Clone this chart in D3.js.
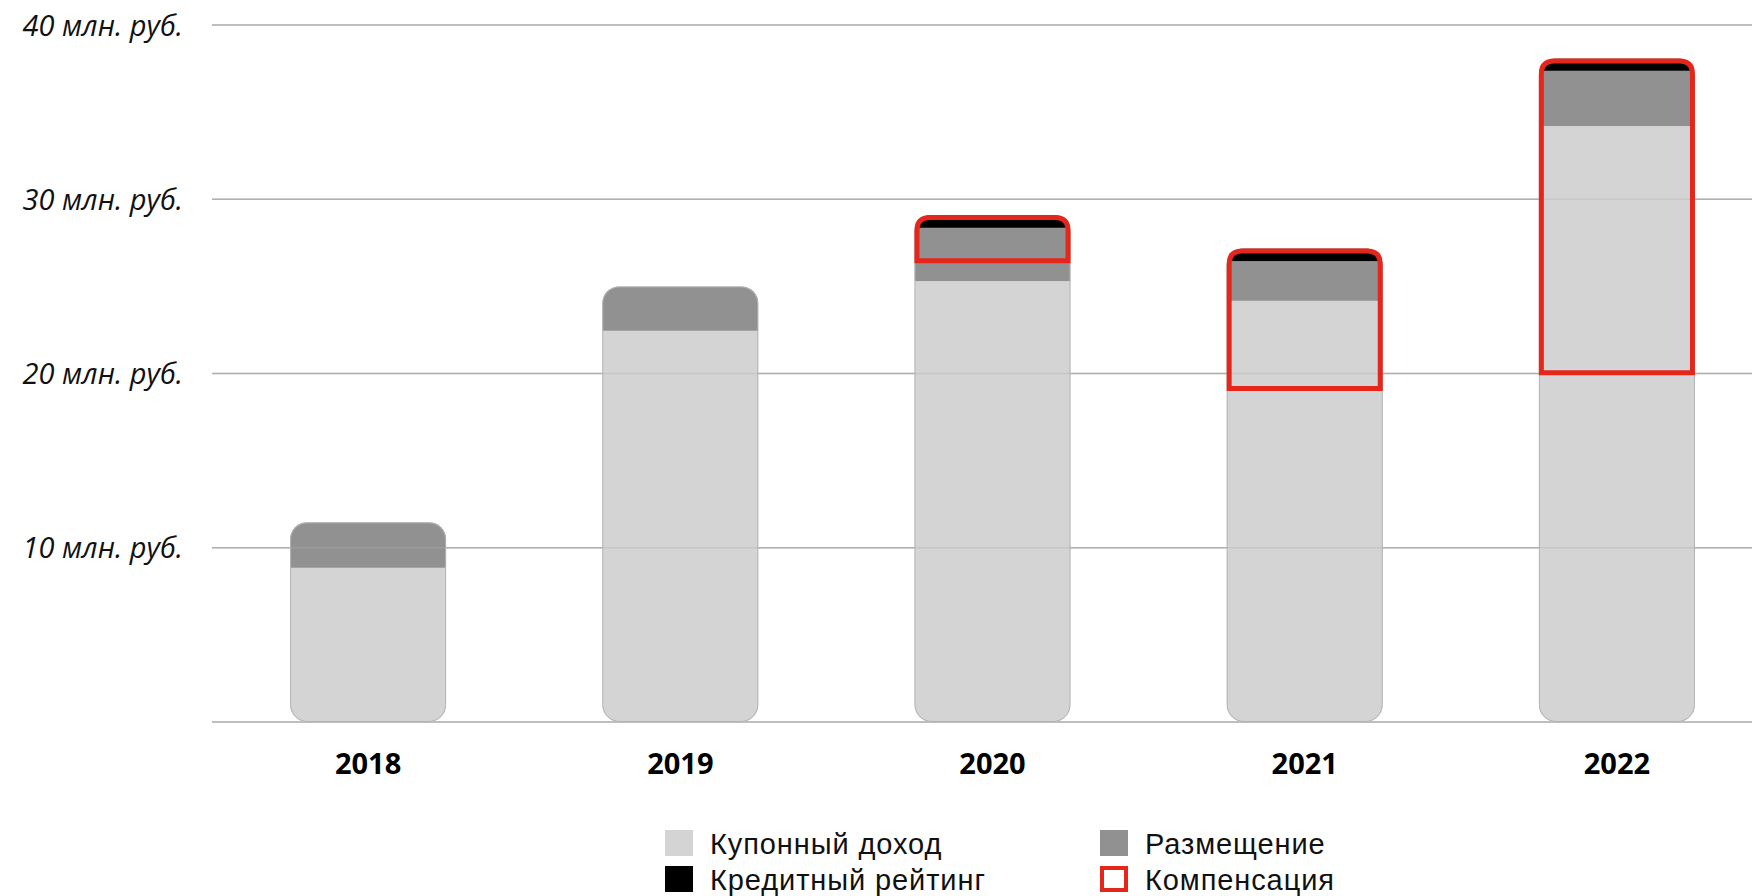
<!DOCTYPE html>
<html><head><meta charset="utf-8">
<script src="https://cdn.jsdelivr.net/npm/d3@7"></script>
<style>html,body{margin:0;padding:0;background:#fff;}svg{display:block;}</style>
</head><body>
<svg id="chart" width="1752" height="896"></svg>
<script>
const years = ["2018", "2019", "2020", "2021", "2022"];
const coupon = [8.85, 22.45, 25.3, 24.17, 34.2];
const placement = [2.61, 2.55, 3.06, 2.28, 3.17];
const rating = [0, 0, 0.73, 0.73, 0.71];
const compFrom = [null, null, 26.32, 19.0, 19.9];
const compTo = [null, null, 29.09, 27.18, 38.08];
const yTicks = [10, 20, 30, 40];
const yUnit = " млн. руб.";
const seriesKeys = ["coupon", "placement", "rating"];
const seriesLabels = ["Купонный доход", "Размещение", "Кредитный рейтинг", "Компенсация"];
const colors = {coupon: "#d4d4d4", placement: "#919191", rating: "#000000", comp: "#e5261b"};

const rows = years.map((yr, i) => ({year: yr, coupon: coupon[i], placement: placement[i], rating: rating[i]}));
const stacked = d3.stack().keys(seriesKeys)(rows);

const svg = d3.select("#chart");
const x = d3.scaleBand().domain(years).range([212, 1773]).paddingInner(0.5).paddingOuter(0.25);
const y = d3.scaleLinear().domain([0, 40]).range([722, 25]);
const gridX0 = 212, gridX1 = 1752;

// gridlines (under)
const gridVals = [0].concat(yTicks);
svg.append("g").selectAll("line").data(gridVals).join("line")
  .attr("x1", gridX0).attr("x2", gridX1)
  .attr("y1", d => y(d)).attr("y2", d => y(d))
  .attr("stroke", "#b0b0b0").attr("stroke-width", 1.5);

// y axis labels
const yAxis = d3.axisLeft(y).tickValues(yTicks).tickSize(0).tickPadding(0).tickFormat(d => d + yUnit);
const yg = svg.append("g").attr("transform", "translate(183,0)").call(yAxis);
yg.select(".domain").remove();
yg.selectAll("text")
  .attr("font-family", "'Open Sans', 'Noto Sans', sans-serif")
  .attr("font-style", "italic").attr("font-size", 29).attr("fill", "#111")
  .attr("dy", "0.35em");

// bars
const defs = svg.append("defs");
const bw = x.bandwidth();
const r = 17;
const totals = rows.map(d => d.coupon + d.placement + d.rating);
years.forEach((yr, i) => {
  const bx = x(yr);
  defs.append("clipPath").attr("id", "clip" + i)
    .append("rect").attr("x", bx).attr("y", y(totals[i])).attr("width", bw)
    .attr("height", y(0) - y(totals[i])).attr("rx", r).attr("ry", r);
  const g = svg.append("g").attr("clip-path", `url(#clip${i})`);
  stacked.forEach(s => {
    const seg = s[i];
    if (seg[1] - seg[0] <= 0) return;
    g.append("rect").attr("x", bx).attr("width", bw)
      .attr("y", y(seg[1])).attr("height", y(seg[0]) - y(seg[1]))
      .attr("fill", colors[s.key]);
  });
  svg.append("rect").attr("x", bx + 0.5).attr("y", y(totals[i]) + 0.5).attr("width", bw - 1)
    .attr("height", y(0) - y(totals[i]) - 1).attr("rx", r).attr("ry", r)
    .attr("fill", "none").attr("stroke", "#b4b4b4").attr("stroke-width", 1);
});

// gridlines (over, faint)
svg.append("g").selectAll("line").data(gridVals).join("line")
  .attr("x1", gridX0).attr("x2", gridX1)
  .attr("y1", d => y(d)).attr("y2", d => y(d))
  .attr("stroke", "#b0b0b0").attr("stroke-width", 1.5).attr("opacity", 0.35);

// compensation outlines
const sw = 5, cr = 13;
years.forEach((yr, i) => {
  if (compFrom[i] == null) return;
  const x0 = x(yr) + sw / 2, x1 = x(yr) + bw - sw / 2;
  const yt = y(compTo[i]) + sw / 2, yb = y(compFrom[i]) - sw / 2;
  const p = d3.path();
  p.moveTo(x0, yb); p.lineTo(x0, yt + cr);
  p.quadraticCurveTo(x0, yt, x0 + cr, yt);
  p.lineTo(x1 - cr, yt);
  p.quadraticCurveTo(x1, yt, x1, yt + cr);
  p.lineTo(x1, yb); p.closePath();
  svg.append("path").attr("d", p.toString()).attr("fill", "none")
    .attr("stroke", colors.comp).attr("stroke-width", sw).attr("stroke-linejoin", "miter");
});

// x axis labels
const xAxis = d3.axisBottom(x).tickSize(0).tickPadding(0);
const xg = svg.append("g").attr("transform", "translate(0,774)").call(xAxis);
xg.select(".domain").remove();
xg.selectAll("text")
  .attr("font-family", "'Open Sans', 'Noto Sans', sans-serif")
  .attr("font-weight", 700).attr("font-size", 29).attr("fill", "#000")
  .attr("dy", 0).attr("y", 0);

// legend
const legendItems = [
  {label: seriesLabels[0], fill: colors.coupon, col: 0, row: 0},
  {label: seriesLabels[1], fill: colors.placement, col: 1, row: 0},
  {label: seriesLabels[2], fill: colors.rating, col: 0, row: 1},
  {label: seriesLabels[3], fill: "none", stroke: colors.comp, col: 1, row: 1}
];
const colX = [665, 1100], rowY = [830, 866], sqW = 28, sqH = 26;
const lg = svg.append("g");
legendItems.forEach(it => {
  const gx = colX[it.col], gy = rowY[it.row];
  if (it.stroke) {
    lg.append("rect").attr("x", gx + 2).attr("y", gy + 2).attr("width", sqW - 4).attr("height", sqH - 4)
      .attr("fill", "#fff").attr("stroke", it.stroke).attr("stroke-width", 4);
  } else {
    lg.append("rect").attr("x", gx).attr("y", gy).attr("width", sqW).attr("height", sqH).attr("fill", it.fill);
  }
  lg.append("text").attr("x", gx + 45).attr("y", gy + 23.5)
    .attr("font-family", "'Liberation Sans', Arial, sans-serif").attr("font-size", 29)
    .attr("letter-spacing", 0.9).attr("fill", "#111").text(it.label);
});
</script>
</body></html>
